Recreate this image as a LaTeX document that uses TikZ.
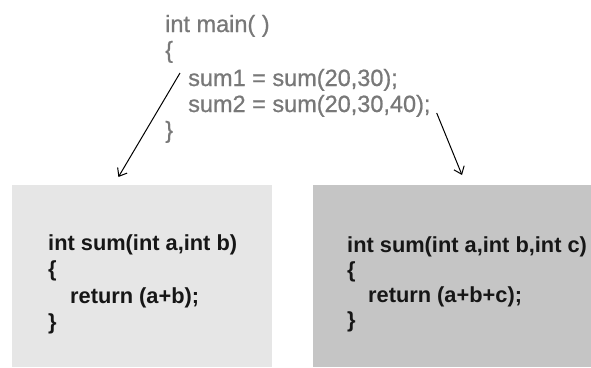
\documentclass[tikz,border=0pt]{standalone}
\usepackage{fontspec}
\setmainfont{Liberation Sans}
\newfontfamily\callerfont[FakeBold=0.8]{Liberation Sans}
\usepackage{xcolor}
\usetikzlibrary{arrows.meta, positioning, calc}
\definecolor{codegray}{RGB}{120, 120, 120}
\definecolor{boxlight}{RGB}{230, 230, 230}
\definecolor{boxdark}{RGB}{197, 197, 197}
\definecolor{darktext}{RGB}{22, 22, 22}

\begin{document}
\begin{tikzpicture}[
    x=1pt, y=-1pt,
    mainline/.style={anchor=base west, inner sep=0pt, text=codegray,
                     font=\callerfont\fontsize{23.5}{26}\selectfont},
    codebox/.style={rectangle, anchor=north west, inner sep=0pt,
                    minimum width=260pt, minimum height=182pt},
    bodyline/.style={anchor=base west, inner sep=0pt, text=darktext,
                     font=\fontsize{21.8}{26}\selectfont\bfseries},
    arrow/.style={-{Straight Barb[length=7pt, width=11pt]}, line width=1pt, black}
]
\useasboundingbox (0,0) rectangle (591,367);

% Caller
\node[mainline] (mainhead) at (165,32) {int main( )};
\node[mainline] (mainopen) at (165,58) {\{};
\node[mainline] (callA) at (188,86) {sum1 = sum(20,30);};
\node[mainline] (callB) at (188,112) {sum2 = sum(20,30,40);};
\node[mainline] (mainclose) at (165,138) {\}};

% Two-argument version
\node[codebox, fill=boxlight] (leftbox) at (12,185) {};
\node[bodyline] (leftsig) at (48,250) {int sum(int a,int b)};
\node[bodyline] (leftopen) at (48,276) {\{};
\node[bodyline] (leftret) at (70,303) {return (a+b);};
\node[bodyline] (leftclose) at (48,329) {\}};

% Three-argument version
\node[codebox, fill=boxdark, minimum width=278pt] (rightbox) at (313,185) {};
\node[bodyline] (rightsig) at (347,252) {int sum(int a,int b,int c)};
\node[bodyline] (rightopen) at (347,277) {\{};
\node[bodyline] (rightret) at (368,302) {return (a+b+c);};
\node[bodyline] (rightclose) at (347,327) {\}};

% Arrows
\coordinate (fromA) at ([shift={(-8,-13)}]callA.base west);
\coordinate (toA) at ([shift={(-154,-8)}]leftbox.north east);
\coordinate (fromB) at ([shift={(6,1)}]callB.base east);
\coordinate (toB) at ([shift={(149,-10)}]rightbox.north west);
\draw[arrow] (fromA) -- (toA);
\draw[arrow] (fromB) -- (toB);

\end{tikzpicture}
\end{document}
